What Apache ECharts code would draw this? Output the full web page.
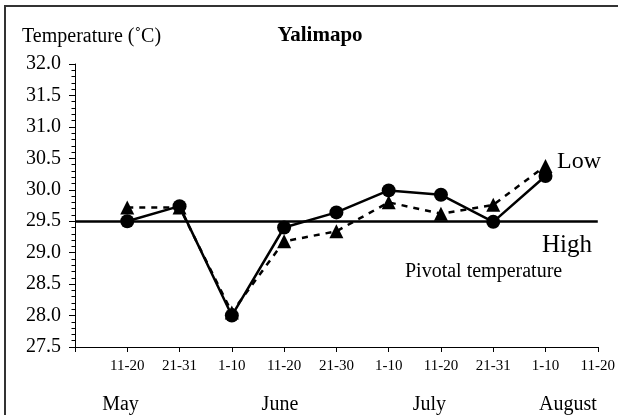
<!DOCTYPE html>
<html>
<head>
<meta charset="utf-8">
<script src="https://cdn.jsdelivr.net/npm/echarts@6/dist/echarts.min.js"></script>
<style>
  html, body { margin: 0; padding: 0; background: #fff; }
  #chart { width: 618px; height: 415px; }
</style>
</head>
<body>
<div id="chart"></div>
<script>
// ten-day periods, May 11-20 .. August 11-20
const periods = ['11-20', '21-31', '1-10', '11-20', '21-30', '1-10', '11-20', '21-31', '1-10', '11-20'];
const months = ['May', 'June', 'July', 'August'];
const monthAt = [0.87, 3.92, 6.78, 9.43];
const high = [29.5, 29.74, 28.0, 29.4, 29.64, 29.99, 29.92, 29.49, 30.22];   // circles, solid
const low = [29.72, 29.72, 28.05, 29.18, 29.34, 29.8, 29.62, 29.76, 30.38];  // triangles, dotted
const pivotal = 29.5;

const font = 'Liberation Serif';
const chart = echarts.init(document.getElementById('chart'));

chart.setOption({
    animation: false,
    title: {
        text: 'Yalimapo',
        left: 315,
        textAlign: 'center',
        top: 20,
        textStyle: { fontFamily: font, fontSize: 21, fontWeight: 'bold', color: '#000' }
    },
    grid: { left: 75, top: 64, right: 15, bottom: 68 },
    graphic: [
        {
            type: 'rect',
            shape: { x: 5, y: 6, width: 700, height: 500 },
            style: { fill: null, stroke: '#333', lineWidth: 2 },
            silent: true
        },
        {
            type: 'text', x: 22, y: 37,
            style: { text: 'Temperature (˚C)', font: '20px "Liberation Serif"', fill: '#000', verticalAlign: 'middle' }
        },
        {
            type: 'text', x: 557, y: 162,
            style: { text: 'Low', font: '24px "Liberation Serif"', fill: '#000', verticalAlign: 'middle' }
        },
        {
            type: 'text', x: 542, y: 245,
            style: { text: 'High', font: '25px "Liberation Serif"', fill: '#000', verticalAlign: 'middle' }
        },
        {
            type: 'text', x: 405, y: 272,
            style: { text: 'Pivotal temperature', font: '20px "Liberation Serif"', fill: '#000', verticalAlign: 'middle' }
        }
    ],
    xAxis: [
        {
            type: 'value', min: 0, max: 10, interval: 1,
            axisLine: { lineStyle: { color: '#000', width: 1 } },
            axisTick: { length: 5, lineStyle: { color: '#000' } },
            splitLine: { show: false },
            axisLabel: {
                margin: 12, fontFamily: font, fontSize: 15, color: '#000',
                showMinLabel: true, showMaxLabel: true,
                formatter: v => (v >= 1 ? periods[v - 1] : '')
            }
        },
        {
            type: 'value', min: 0, max: 10, position: 'bottom', offset: 0,
            axisLine: { show: false },
            axisTick: { show: false },
            splitLine: { show: false },
            axisLabel: {
                customValues: monthAt,
                margin: 48, fontFamily: font, fontSize: 20, color: '#000',
                formatter: v => months[monthAt.indexOf(v)]
            }
        }
    ],
    yAxis: {
        type: 'value', min: 27.5, max: 32, interval: 0.5,
        axisLine: { show: true, lineStyle: { color: '#000', width: 1 } },
        axisTick: { show: true, length: 6, lineStyle: { color: '#000' } },
        minorTick: { show: true, splitNumber: 5, length: 3.5, lineStyle: { color: '#000' } },
        splitLine: { show: false },
        axisLabel: {
            margin: 14, fontFamily: font, fontSize: 20, color: '#000',
            formatter: v => v.toFixed(1)
        }
    },
    series: [
        {
            name: 'Low',
            type: 'line',
            data: low.map((v, i) => [i + 1, v]),
            symbol: 'triangle',
            symbolSize: 14,
            itemStyle: { color: '#000' },
            lineStyle: { color: '#000', width: 2.5, type: [6, 6] },
            z: 2
        },
        {
            name: 'High',
            type: 'line',
            data: high.map((v, i) => [i + 1, v]),
            symbol: 'circle',
            symbolSize: 14,
            itemStyle: { color: '#000' },
            lineStyle: { color: '#000', width: 2.5 },
            z: 3,
            markLine: {
                silent: true,
                symbol: 'none',
                label: { show: false },
                lineStyle: { color: '#000', width: 2.5, type: 'solid' },
                data: [{ yAxis: pivotal }]
            }
        }
    ]
});
</script>
</body>
</html>
